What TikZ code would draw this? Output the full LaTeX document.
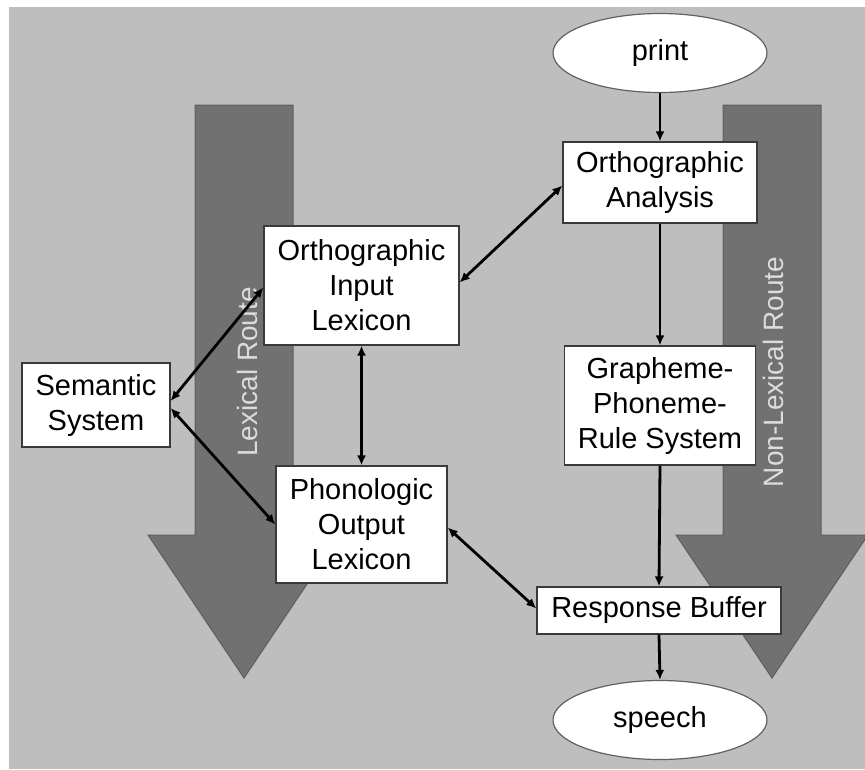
\documentclass[tikz,border=0pt]{standalone}
\usepackage{fontspec}
\setmainfont{Liberation Sans}
\usetikzlibrary{arrows.meta,shapes.geometric}
\definecolor{bggray}{HTML}{BEBEBE}
\definecolor{arrowfill}{HTML}{717171}
\definecolor{arrowedge}{HTML}{5E5E5E}
\definecolor{routecol}{HTML}{DCDCDC}
\definecolor{boxedge}{HTML}{3A3A3A}
\begin{document}
\begin{tikzpicture}[x=1pt,y=-1pt,
  bigarrow/.style={fill=arrowfill,draw=arrowedge,line width=1pt},
  routetext/.style={text=routecol,font=\fontsize{28}{32}\selectfont,inner sep=0pt},
  procbox/.style={draw=boxedge,fill=white,line width=1.2pt,inner sep=0pt,align=center,
    font=\fontsize{29}{35}\selectfont,text=black},
  ioellipse/.style={ellipse,draw=boxedge!80,fill=white,line width=1.2pt,inner sep=0pt,
    minimum width=214pt,minimum height=79pt,font=\fontsize{29}{35}\selectfont,text=black},
  conn/.style={line width=2.8pt,black,-{Latex[length=10pt,width=9pt]}},
  dconn/.style={line width=2.8pt,black,{Latex[length=10pt,width=9pt]}-{Latex[length=10pt,width=9pt]}}
]
\useasboundingbox (0,0) rectangle (865,769);
\fill[white] (0,0) rectangle (865,769);
\fill[bggray] (9,7) rectangle (865,769);

\begin{scope}
\clip (0,0) rectangle (865,769);
\draw[bigarrow] (195,105) -- (293,105) -- (293,535) -- (340,535) -- (244,678)
  -- (148,535) -- (195,535) -- cycle;
\draw[bigarrow] (723,105) -- (821,105) -- (821,535) -- (868,535) -- (772,678)
  -- (676,535) -- (723,535) -- cycle;
\end{scope}

\node[routetext,rotate=90] (lexroute) at (247,372) {Lexical Route};
\node[routetext,rotate=90] (nonlexroute) at (773,372) {Non-Lexical Route};

\node[ioellipse] (print) at (660,53) {print};
\node[ioellipse] (speech) at (660,720) {speech};

\node[procbox,minimum width=194pt,minimum height=81pt] (oa) at (660,182.5) {Orthographic\\Analysis};
\node[procbox,minimum width=191pt,minimum height=119pt] (gpr) at (660,405.5) {Grapheme-\\Phoneme-\\Rule System};
\node[procbox,minimum width=244pt,minimum height=47pt] (rb) at (659,610.5) {Response Buffer};
\node[procbox,minimum width=195pt,minimum height=119pt] (oil) at (361.5,285.5) {Orthographic\\Input\\Lexicon};
\node[procbox,minimum width=171pt,minimum height=117pt] (pol) at (361.5,524.5) {Phonologic\\Output\\Lexicon};
\node[procbox,minimum width=148pt,minimum height=84pt] (ss) at (96,405) {Semantic\\System};

\draw[conn] (print.south) -- (oa.north);
\draw[conn] (oa.south) -- (gpr.north);
\draw[conn] (gpr.south) -- (rb.north);
\draw[conn] (rb.south) -- (speech.north);

\draw[dconn] (oil.south) -- (pol.north);
\draw[dconn] ([yshift=4pt]ss.east) -- ([yshift=-2pt]oil.west);
\draw[dconn] ([yshift=-3pt]ss.east) -- (pol.west);
\draw[dconn] ([yshift=3pt]oil.east) -- ([yshift=-3pt]oa.west);
\draw[dconn] ([yshift=-3pt]pol.east) -- ([yshift=2pt]rb.west);
\end{tikzpicture}
\end{document}
